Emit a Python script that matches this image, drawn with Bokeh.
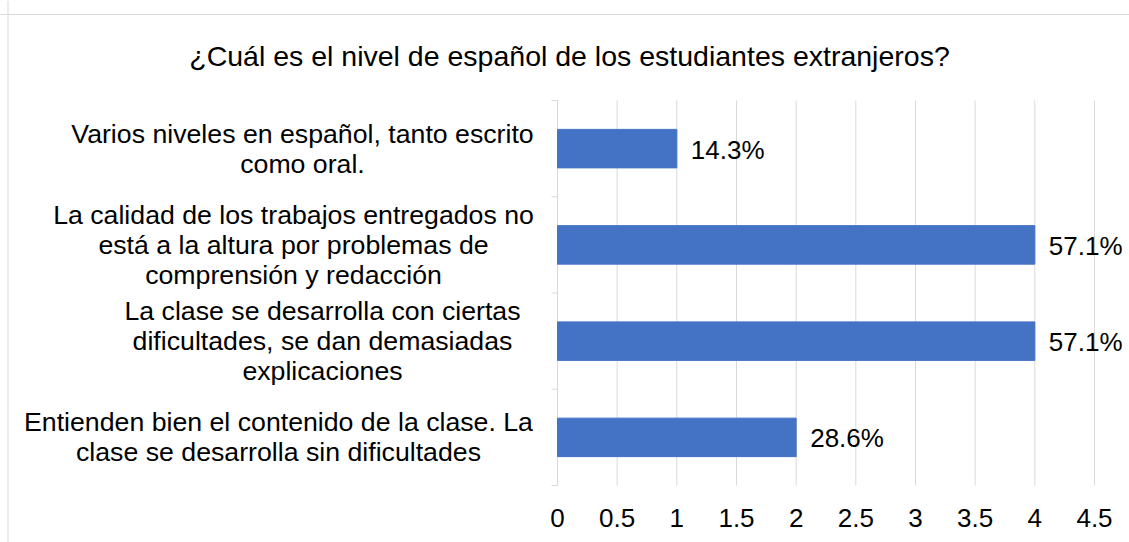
from bokeh.plotting import figure
from bokeh.models import Range1d, ColumnDataSource, Span
from bokeh.core.properties import value
from bokeh.embed import file_html
from bokeh.resources import INLINE

# ---- data ----
title_text = "¿Cuál es el nivel de español de los estudiantes extranjeros?"
categories = [
    "Entienden bien el contenido de la clase. La\nclase se desarrolla sin dificultades",
    "La clase se desarrolla con ciertas\ndificultades, se dan demasiadas\nexplicaciones",
    "La calidad de los trabajos entregados no\nestá a la altura por problemas de\ncomprensión y redacción",
    "Varios niveles en español, tanto escrito\ncomo oral.",
]
values = [2, 4, 4, 1]
pct_labels = ["28.6%", "57.1%", "57.1%", "14.3%"]
x_ticks = [0, 0.5, 1, 1.5, 2, 2.5, 3, 3.5, 4, 4.5]
x_tick_labels = ["0", "0.5", "1", "1.5", "2", "2.5", "3", "3.5", "4", "4.5"]

# ---- layout (pixels inside the figure) ----
W, H = 1129, 542
FL, FR, FT, FB = 557, 1094, 100, 485      # plotting area edges
XMAX = 4.5
NCAT = len(categories)
sx = (FR - FL) / XMAX                     # px per x unit
sy = (FB - FT) / NCAT                     # px per y unit
label_center_px = [278, 322, 293, 302]    # horizontal centres of category blocks
FONT = "Liberation Sans"
FS = "26px"

def px_x(px):
    return (px - FL) / sx

def px_y(py):
    return (FB - py) / sy

ypos = [i + 0.5 for i in range(NCAT)]

p = figure(width=W, height=H, output_backend="svg", toolbar_location=None,
           x_range=Range1d(px_x(0), px_x(W)), y_range=Range1d(px_y(H), px_y(0)),
           x_axis_location=None, y_axis_location=None, min_border=0, title=None)
p.grid.visible = False
p.outline_line_color = None
p.background_fill_color = "white"
p.border_fill_color = "white"

# chart-area border (top and left edges)
p.add_layout(Span(location=px_y(14), dimension="width", line_color="#d9d9d9", line_width=1))
p.add_layout(Span(location=px_x(7.5), dimension="height", line_color="#d9d9d9", line_width=1))

# vertical gridlines
p.segment(x0=x_ticks, y0=[0] * len(x_ticks), x1=x_ticks, y1=[NCAT] * len(x_ticks),
          line_color="#d9d9d9", line_width=1)

# y axis line and boundary ticks
bounds = list(range(NCAT + 1))
p.segment(x0=[0], y0=[0], x1=[0], y1=[NCAT], line_color="#d9d9d9", line_width=1)
p.segment(x0=[-6 / sx] * len(bounds), y0=bounds, x1=[0] * len(bounds), y1=bounds,
          line_color="#d9d9d9", line_width=1)

# bars
src = ColumnDataSource(dict(y=ypos, v=values, lab=pct_labels))
p.hbar(y="y", right="v", left=0, height=0.4, source=src, fill_color="#4472C4", line_color="#4472C4")

# value labels
p.text(x="v", y="y", text="lab", source=src, x_offset=14, y_offset=1,
       text_baseline="middle", text_align="left", text_font=value(FONT),
       text_font_size=FS, text_color="#000000")

# x tick labels
p.text(x=x_ticks, y=[px_y(FB + 32)] * len(x_ticks), text=x_tick_labels,
       text_align="center", text_baseline="middle", text_font=value(FONT),
       text_font_size=FS, text_color="#000000")

# category labels
p.text(x=[px_x(c) for c in label_center_px], y=ypos, text=categories,
       text_align="center", text_baseline="middle", text_font=value(FONT),
       text_font_size="26.7px", text_color="#000000", text_line_height=1.0)

# title
p.text(x=[px_x(569)], y=[px_y(55)], text=[title_text], text_align="center",
       text_baseline="middle", text_font=value(FONT), text_font_size="28.5px",
       text_color="#000000")

open("out.html", "w").write(file_html(p, INLINE))
